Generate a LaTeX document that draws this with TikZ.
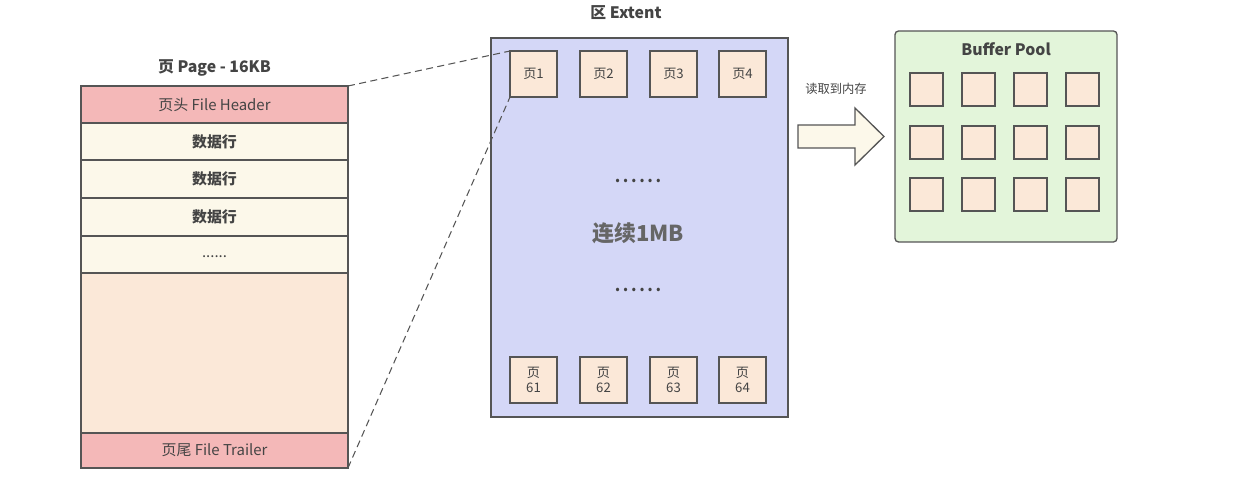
\documentclass[tikz,border=0pt]{standalone}
\usepackage{fontspec}
\setmainfont{Noto Sans CJK SC}
\definecolor{linegray}{HTML}{555555}
\definecolor{textgray}{HTML}{444444}
\definecolor{headpink}{HTML}{F4B8B8}
\definecolor{rowcream}{HTML}{FCF8EA}
\definecolor{pagepeach}{HTML}{FBE8D8}
\definecolor{extentblue}{HTML}{D4D7F7}
\definecolor{poolgreen}{HTML}{E3F5DA}
\tikzset{
  pagerow/.style={draw=linegray, line width=0.75pt, minimum width=5.34cm, minimum height=0.75cm,
    inner sep=0pt, outer sep=0pt, text=textgray, font=\fontsize{8.5}{10}\selectfont},
  smallpage/.style={draw=linegray, line width=0.75pt, fill=pagepeach, minimum width=0.94cm,
    minimum height=0.92cm, inner sep=0pt, outer sep=0pt, text=textgray, align=center,
    font=\fontsize{7.5}{9}\selectfont},
  poolpage/.style={draw=linegray, line width=0.75pt, fill=pagepeach, minimum size=0.66cm,
    inner sep=0pt, outer sep=0pt},
  boxtitle/.style={text=textgray, font=\bfseries\fontsize{9}{10}\selectfont}
}
\begin{document}
\begin{tikzpicture}[x=0.02cm, y=-0.02cm]
\useasboundingbox (0,0) rectangle (1258,486);

% ----------------------------------------------------
% 1. Page - 16KB
% ----------------------------------------------------
\begin{scope}
  \node[boxtitle] (pagetitle) at (214.5, 68) {页 Page - 16KB};

  \node[pagerow, fill=headpink, minimum height=0.74cm] (hdr) at (214.5, 104.5) {页头 File Header};
  \node[pagerow, fill=rowcream, minimum height=0.74cm, font=\bfseries\fontsize{8.5}{10}\selectfont] (row1) at (214.5, 141.5) {数据行};
  \node[pagerow, fill=rowcream, minimum height=0.76cm, font=\bfseries\fontsize{8.5}{10}\selectfont] (row2) at (214.5, 179) {数据行};
  \node[pagerow, fill=rowcream, minimum height=0.76cm, font=\bfseries\fontsize{8.5}{10}\selectfont] (row3) at (214.5, 217) {数据行};
  \node[pagerow, fill=rowcream, minimum height=0.74cm] (row4) at (214.5, 254.5) {\raisebox{-3pt}{......}};
  \node[pagerow, fill=pagepeach, minimum height=3.2cm] (body) at (214.5, 353) {};
  \node[pagerow, fill=headpink, minimum height=0.7cm] (trl) at (214.5, 450.5) {页尾 File Trailer};
\end{scope}

% ----------------------------------------------------
% 2. Extent - 64 pages
% ----------------------------------------------------
\begin{scope}
  \node[boxtitle] (exttitle) at (626, 13) {区 Extent};
  \node[draw=linegray, line width=0.75pt, fill=extentblue, minimum width=5.94cm, minimum height=7.58cm,
    inner sep=0pt, outer sep=0pt] (extent) at (639.5, 227.5) {};

  % top row
  \node[smallpage] (p1) at (533.5, 74) {页1};
  \node[smallpage] (p2) at (603.5, 74) {页2};
  \node[smallpage] (p3) at (673.5, 74) {页3};
  \node[smallpage] (p4) at (742.5, 74) {页4};

  % bottom row
  \node[smallpage] (p61) at (533.5, 380) {页\\61};
  \node[smallpage] (p62) at (603.5, 380) {页\\62};
  \node[smallpage] (p63) at (673.5, 380) {页\\63};
  \node[smallpage] (p64) at (742.5, 380) {页\\64};

  \node[text=textgray, font=\bfseries\fontsize{9}{9}\selectfont] (dotsup) at (638, 181) {.\,.\,.\,.\,.\,.};
  \node[text=linegray!90, font=\bfseries\fontsize{12.5}{14}\selectfont] (mb) at (638, 233) {连续1MB};
  \node[text=textgray, font=\bfseries\fontsize{9}{9}\selectfont] (dotsdown) at (638, 290) {.\,.\,.\,.\,.\,.};
\end{scope}

% zoom lines page -> extent
\draw[linegray, line width=0.6pt, dash pattern=on 4pt off 2.5pt] (hdr.north east) -- (p1.north west);
\draw[linegray, line width=0.6pt, dash pattern=on 4pt off 2.5pt] (trl.south east) -- (p1.south west);

% ----------------------------------------------------
% 3. Read into memory
% ----------------------------------------------------
\node[text=textgray, font=\fontsize{7}{8}\selectfont] (readlbl) at (836, 89) {读取到内存};
\draw[linegray, line width=0.75pt, fill=rowcream, line join=miter]
  (798,125) -- (855,125) -- (855,108) -- (884,136.5) -- (855,165) -- (855,148) -- (798,148) -- cycle;

% ----------------------------------------------------
% 4. Buffer Pool
% ----------------------------------------------------
\begin{scope}
  \node[draw=linegray, line width=0.75pt, fill=poolgreen, rounded corners=2pt, minimum width=4.44cm,
    minimum height=4.22cm, inner sep=0pt] (pool) at (1006, 136.5) {};
  \node[boxtitle] (pooltitle) at (1006, 49) {Buffer Pool};
  \foreach \r/\y in {1/89.5, 2/142.5, 3/194.5}
    \foreach \c/\x in {1/926.5, 2/978.5, 3/1030.5, 4/1082.5}
      \node[poolpage] (bp\r\c) at (\x, \y) {};
\end{scope}

\end{tikzpicture}
\end{document}
